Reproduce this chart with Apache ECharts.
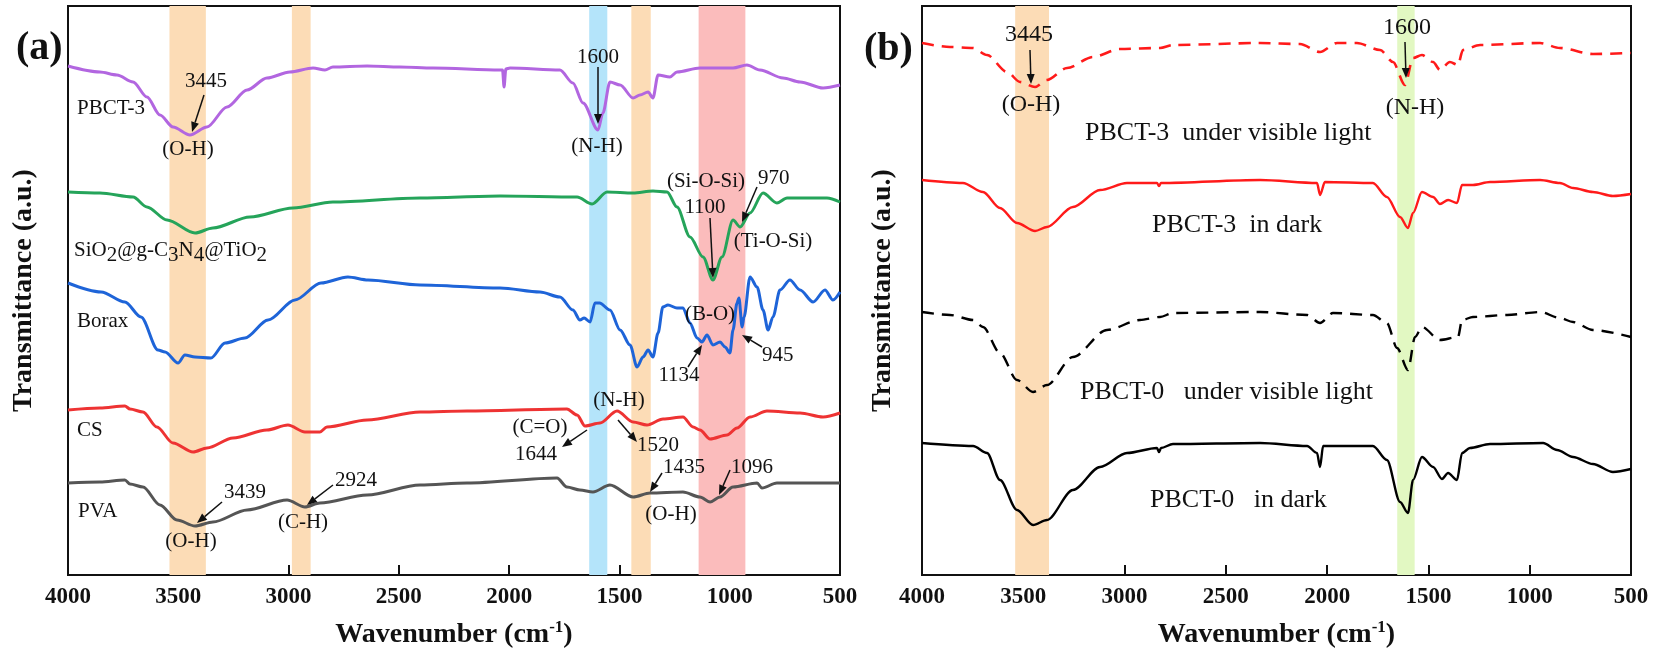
<!DOCTYPE html>
<html>
<head>
<meta charset="utf-8">
<script src="https://cdn.jsdelivr.net/npm/echarts@6/dist/echarts.min.js"></script>
<style>
  html, body { margin: 0; padding: 0; background: #fff; }
  #chart { width: 1654px; height: 657px; }
</style>
</head>
<body>
<div id="chart"></div>
<script>
// wavenumber (cm-1) / transmittance (a.u., offset for stacking)
var pbct3_x = [4000,3855,3778,3705,3642,3583,3524,3447,3370,3279,3188,3098,2994,2889,2835,2799,2644,2495,2345,2041,2030,2023,2015,1996,1770,1711,1665,1597,1575,1543,1497,1438,1407,1370,1348,1325,1271,1239,1135,985,922,863,758,681,577,500];
var pbct3_y = [50.9,50.3,50.0,49.3,47.8,46.0,44.8,44.0,44.8,46.8,48.5,49.7,50.3,50.7,50.5,50.8,50.9,50.8,50.7,50.5,50.5,48.8,50.6,50.7,50.5,49.2,47.2,44.5,46.2,49.3,49.0,47.7,48.0,48.3,47.7,50.0,49.8,50.3,50.7,50.7,51.0,50.5,49.7,49.3,48.7,49.0];

var sio2_x = [4000,3855,3705,3642,3551,3424,3343,3175,2980,2799,2404,2041,1692,1624,1556,1438,1348,1284,1239,1180,1121,1076,1035,985,953,908,849,786,740,559,500];
var sio2_y = [38.3,38.2,37.8,36.8,35.5,34.2,34.7,35.8,36.7,37.3,37.7,37.9,37.8,37.1,38.3,38.2,38.4,38.3,36.8,33.8,31.8,29.5,31.8,35.5,34.8,36.2,38.2,37.2,37.7,37.7,37.3];

var borax_x = [4000,3850,3742,3669,3592,3560,3501,3470,3424,3352,3288,3198,3093,2971,2853,2731,2640,2404,2041,1860,1770,1711,1679,1660,1633,1611,1590,1543,1497,1452,1420,1393,1370,1348,1325,1303,1280,1239,1212,1180,1148,1126,1103,1076,1044,1021,999,985,967,958,944,935,908,876,849,826,804,772,727,681,622,568,532,500];
var borax_y = [29.2,28.3,27.3,25.8,22.5,22.3,21.2,22.0,21.8,21.7,23.2,23.7,25.5,27.5,29.2,29.8,29.5,29.0,28.7,28.3,27.8,26.5,25.5,25.7,25.3,27.2,27.2,26.5,24.5,23.0,20.8,21.8,22.5,21.8,24.2,26.8,27.0,26.7,26.7,25.2,23.7,23.3,24.0,23.0,23.3,22.8,22.2,24.5,27.2,27.7,24.8,25.8,29.8,28.8,26.5,24.5,25.8,28.5,29.5,28.5,27.3,28.5,27.5,28.3];

var cs_x = [4000,3855,3742,3719,3660,3597,3524,3433,3370,3252,3098,3003,2926,2858,2826,2644,2404,2191,1738,1692,1656,1588,1511,1438,1375,1302,1212,1166,1135,1089,1012,967,908,831,681,577,500];
var cs_y = [16.5,16.7,16.9,16.6,16.3,14.8,13.2,12.3,12.7,13.7,14.5,15.0,14.3,14.3,14.8,15.5,16.3,16.4,16.6,16.0,14.9,15.2,16.4,15.3,15.0,15.6,15.8,14.8,14.5,13.6,14.0,14.7,15.8,16.4,16.2,15.8,16.2];

var pva_x = [4000,3855,3742,3719,3660,3583,3506,3424,3343,3188,3007,2926,2858,2644,2404,2191,1783,1738,1679,1620,1543,1438,1361,1212,1135,1089,1044,985,876,854,786,500];
var pva_y = [9.2,9.3,9.5,9.1,8.8,7.0,5.5,4.9,5.3,6.5,7.5,6.8,7.2,8.0,9.0,9.2,9.7,8.8,8.5,8.3,9.0,7.8,8.2,8.3,7.8,7.3,7.8,8.8,9.2,8.7,9.2,9.2];

var p3light_x = [4000,3862,3748,3679,3580,3516,3442,3383,3284,3156,3023,2825,2761,2331,2134,2035,1951,1853,1739,1675,1616,1576,1532,1477,1443,1394,1354,1330,1245,949,851,688,500];
var p3light_y = [53.2,52.8,52.7,52.0,50.3,49.3,48.8,49.5,50.7,51.8,52.6,52.7,53.0,53.2,53.1,52.3,53.2,53.2,52.5,51.3,49.0,51.7,52.0,51.3,50.5,51.3,51.0,52.5,53.0,53.2,52.7,52.1,52.2];

var p3dark_x = [4000,3798,3699,3615,3531,3442,3383,3255,3121,2988,2840,2830,2820,2331,2050,2035,2011,1774,1705,1640,1601,1576,1532,1477,1443,1403,1359,1334,1280,1196,949,851,786,688,589,500];
var p3dark_y = [39.5,39.2,38.3,36.7,35.2,34.4,34.8,36.8,38.5,39.2,39.2,38.9,39.2,39.5,39.2,38.0,39.3,39.2,37.8,35.8,34.7,36.2,38.3,37.8,37.1,37.5,37.2,39.0,39.0,39.3,39.5,39.2,38.7,38.3,37.9,38.1];

var p0light_x = [4000,3862,3748,3699,3615,3531,3452,3383,3255,3087,2924,2825,2761,2331,2099,2035,1971,1774,1705,1655,1601,1566,1532,1443,1354,1334,1280,1112,949,851,786,688,500];
var p0light_y = [26.3,26.0,25.5,24.8,22.2,19.5,18.3,19.0,21.8,24.5,25.5,25.8,26.2,26.3,26.0,25.2,26.2,26.0,25.2,22.7,20.5,23.8,24.8,23.5,23.8,25.5,25.8,26.0,26.3,25.7,25.3,24.5,23.8];

var p0dark_x = [4000,3748,3679,3615,3531,3452,3383,3255,3121,2988,2840,2830,2820,2761,2331,2099,2050,2035,2020,1774,1705,1640,1601,1576,1532,1477,1433,1403,1359,1334,1295,1196,934,865,786,688,589,500];
var p0dark_y = [13.2,12.9,12.2,9.5,6.5,5.0,5.5,8.5,10.8,12.2,12.7,12.3,12.7,13.1,13.2,12.9,12.2,10.8,12.9,12.9,11.5,7.3,6.2,9.5,11.8,10.8,9.6,10.2,9.5,12.2,12.7,13.1,13.2,12.5,11.8,11.1,10.3,10.6];

// shaded bands [from, to]
var bandsA = [[3540, 3375, 'orange'], [2985, 2900, 'orange'], [1637, 1555, 'blue'], [1446, 1358, 'orange'], [1141, 929, 'pink']];
var bandsB = [[3540, 3373, 'orange'], [1654, 1568, 'green']];
var xTicks = [500, 4000, 500];

var bandColor = { orange: '#fcdcb6', blue: '#b4e4fa', pink: '#fbbcbc', green: '#e2f8c2' };
var FONT = "'Liberation Serif', 'Times New Roman', serif";

function zip(xs, ys) {
  return xs.map(function (x, i) { return [x, ys[i]]; });
}

function xAxisCfg(gi) {
  return {
    type: 'value',
    gridIndex: gi,
    min: xTicks[0],
    max: xTicks[1],
    interval: xTicks[2],
    inverse: true,
    axisLine: { lineStyle: { color: '#111', width: 2 } },
    axisTick: { inside: true, length: 10, lineStyle: { color: '#111', width: 2 } },
    axisLabel: {
      fontFamily: FONT, fontWeight: 'bold', fontSize: 23, color: '#111', margin: 11,
      formatter: function (v) { return String(v); }
    },
    splitLine: { show: false },
    name: 'Wavenumber (cm{sup|-1})',
    nameLocation: 'middle',
    nameGap: 44,
    nameTextStyle: {
      fontFamily: FONT, fontWeight: 'bold', fontSize: 28, color: '#111',
      rich: { sup: { fontFamily: FONT, fontWeight: 'bold', fontSize: 17, color: '#111', verticalAlign: 'top', padding: [0, 0, 14, 0] } }
    }
  };
}

function yAxisCfg(gi, gap) {
  return {
    type: 'value',
    gridIndex: gi,
    min: 0,
    max: 56.9,
    axisLine: { show: false },
    axisTick: { show: false },
    axisLabel: { show: false },
    splitLine: { show: false },
    name: 'Transmittance (a.u.)',
    nameLocation: 'middle',
    nameRotate: 90,
    nameGap: gap,
    nameTextStyle: { fontFamily: FONT, fontWeight: 'bold', fontSize: 28, color: '#111' }
  };
}

function bandSeries(gi, bands) {
  return {
    type: 'line',
    xAxisIndex: gi,
    yAxisIndex: gi,
    data: [],
    z: 1,
    silent: true,
    markArea: {
      silent: true,
      data: bands.map(function (b) {
        return [{ xAxis: b[0], itemStyle: { color: bandColor[b[2]] } }, { xAxis: b[1] }];
      })
    }
  };
}

function lineSeries(gi, name, xs, ys, color, width, dashed) {
  return {
    type: 'line',
    name: name,
    xAxisIndex: gi,
    yAxisIndex: gi,
    data: zip(xs, ys),
    showSymbol: false,
    smooth: 0.3,
    smoothMonotone: 'x',
    z: 3,
    lineStyle: { color: color, width: width, type: dashed ? [12, 8] : 'solid', join: 'round' }
  };
}

var chart = echarts.init(document.getElementById('chart'));

var option = {
  animation: false,
  backgroundColor: '#fff',
  grid: [
    { left: 68, top: 6, width: 772, height: 569, show: true, borderColor: '#111', borderWidth: 2, backgroundColor: 'transparent' },
    { left: 922, top: 6, width: 709, height: 569, show: true, borderColor: '#111', borderWidth: 2, backgroundColor: 'transparent' }
  ],
  xAxis: [xAxisCfg(0), xAxisCfg(1)],
  yAxis: [yAxisCfg(0, 30), yAxisCfg(1, 25)],
  series: [
    bandSeries(0, bandsA),
    bandSeries(1, bandsB),
    lineSeries(0, 'PBCT-3', pbct3_x, pbct3_y, '#b266e0', 3),
    lineSeries(0, 'SiO2@g-C3N4@TiO2', sio2_x, sio2_y, '#25a45a', 3),
    lineSeries(0, 'Borax', borax_x, borax_y, '#1e64d8', 3),
    lineSeries(0, 'CS', cs_x, cs_y, '#ee3333', 3),
    lineSeries(0, 'PVA', pva_x, pva_y, '#555555', 3),
    lineSeries(1, 'PBCT-3 under visible light', p3light_x, p3light_y, '#ff1a1a', 2.6, true),
    lineSeries(1, 'PBCT-3 in dark', p3dark_x, p3dark_y, '#ff1a1a', 2.4),
    lineSeries(1, 'PBCT-0 under visible light', p0light_x, p0light_y, '#000', 2.4, true),
    lineSeries(1, 'PBCT-0 in dark', p0dark_x, p0dark_y, '#000', 2.4)
  ]
};

// annotation helpers
function txt(s, x, y, size, align, bold) {
  return {
    type: 'text', z: 10, silent: true,
    style: {
      text: s, x: x, y: y, fill: '#111',
      font: (bold ? 'bold ' : '') + size + 'px ' + FONT,
      textAlign: align || 'left', textVerticalAlign: 'middle'
    }
  };
}
function arrow(x1, y1, x2, y2) {
  var a = Math.atan2(y2 - y1, x2 - x1), L = 10, W = 4;
  var bx = x2 - L * Math.cos(a), by = y2 - L * Math.sin(a);
  var px = -Math.sin(a) * W, py = Math.cos(a) * W;
  return [
    { type: 'line', z: 10, silent: true, shape: { x1: x1, y1: y1, x2: bx, y2: by }, style: { stroke: '#111', lineWidth: 1.5 } },
    { type: 'polygon', z: 10, silent: true, shape: { points: [[x2, y2], [bx + px, by + py], [bx - px, by - py]] }, style: { fill: '#111' } }
  ];
}

var g = [
  txt('(a)', 16, 49, 40, 'left', true),
  txt('(b)', 864, 50, 40, 'left', true),
  // panel a
  txt('PBCT-3', 77, 108, 21),
  txt('3445', 185, 81, 21),
  txt('(O-H)', 188, 149, 21, 'center'),
  {
    type: 'text', z: 10, silent: true,
    style: {
      text: 'SiO{s|2}@g-C{s|3}N{s|4}@TiO{s|2}', x: 74, y: 250, fill: '#111',
      font: '21px ' + FONT, textVerticalAlign: 'middle',
      rich: { s: { fontFamily: FONT, fontSize: 21, padding: [10, 0, 0, 0], fill: '#111' } }
    }
  },
  txt('Borax', 77, 321, 21),
  txt('CS', 77, 430, 21),
  txt('PVA', 78, 511, 21),
  txt('3439', 224, 492, 21),
  txt('(O-H)', 191, 541, 21, 'center'),
  txt('2924', 335, 480, 21),
  txt('(C-H)', 303, 522, 21, 'center'),
  txt('1600', 598, 57, 21, 'center'),
  txt('(N-H)', 597, 146, 21, 'center'),
  txt('(Si-O-Si)', 706, 181, 21, 'center'),
  txt('970', 758, 178, 21),
  txt('1100', 705, 207, 21, 'center'),
  txt('(Ti-O-Si)', 773, 241, 21, 'center'),
  txt('(B-O)', 710, 314, 21, 'center'),
  txt('945', 762, 355, 21),
  txt('1134', 679, 375, 21, 'center'),
  txt('(N-H)', 619, 400, 21, 'center'),
  txt('(C=O)', 540, 427, 21, 'center'),
  txt('1644', 536, 454, 21, 'center'),
  txt('1520', 658, 445, 21, 'center'),
  txt('1435', 684, 467, 21, 'center'),
  txt('1096', 752, 467, 21, 'center'),
  txt('(O-H)', 671, 514, 21, 'center'),
  // panel b
  txt('3445', 1029, 35, 24, 'center'),
  txt('(O-H)', 1031, 105, 24, 'center'),
  txt('1600', 1407, 28, 24, 'center'),
  txt('(N-H)', 1415, 108, 24, 'center'),
  txt('PBCT-3  under visible light', 1085, 133, 26),
  txt('PBCT-3  in dark', 1152, 225, 26),
  txt('PBCT-0   under visible light', 1080, 392, 26),
  txt('PBCT-0   in dark', 1150, 500, 26)
];
g = g.concat(
  arrow(204, 95, 192, 132),
  arrow(222, 502, 197, 523),
  arrow(333, 485, 307, 505),
  arrow(598, 67, 598, 124),
  arrow(757, 187, 742, 222),
  arrow(710, 218, 713, 278),
  arrow(762, 347, 742, 335),
  arrow(688, 367, 702, 345),
  arrow(587, 430, 562, 447),
  arrow(618, 420, 637, 442),
  arrow(662, 473, 650, 492),
  arrow(730, 470, 719, 495),
  arrow(1030, 50, 1031, 84),
  arrow(1405, 42, 1406, 78)
);
option.graphic = g;

chart.setOption(option);
</script>
</body>
</html>
